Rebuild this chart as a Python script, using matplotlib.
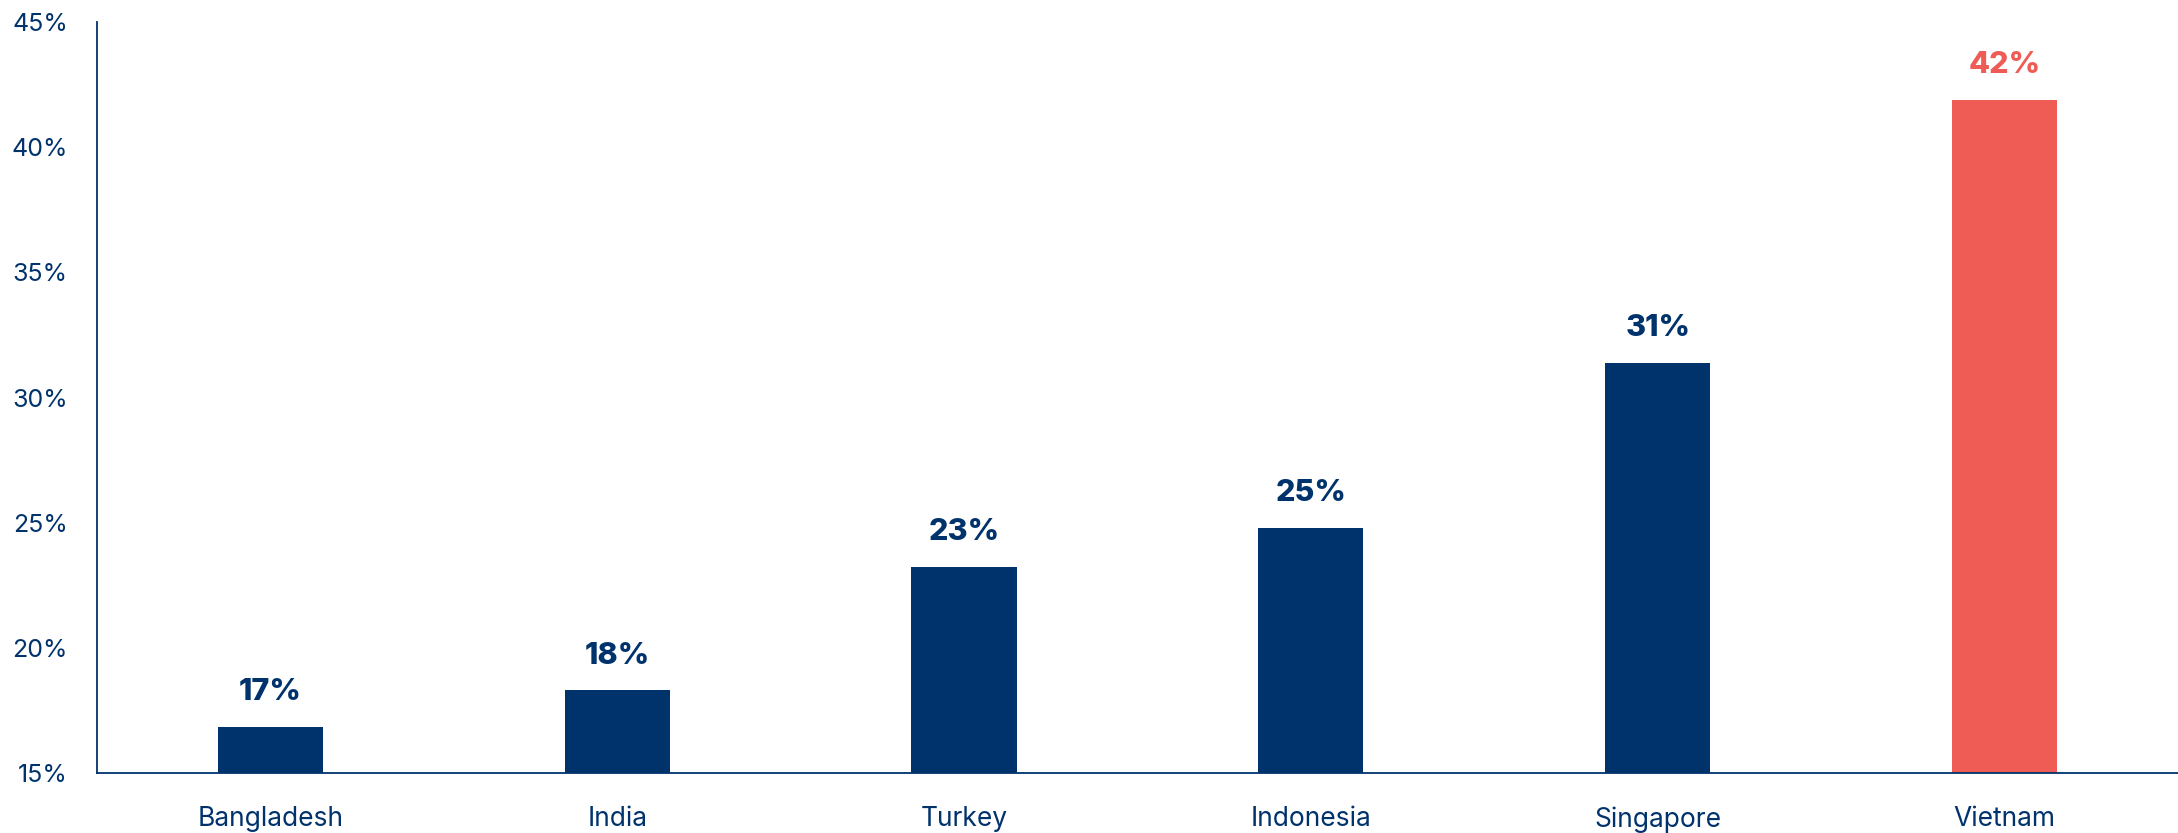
import matplotlib
matplotlib.use("Agg")
import matplotlib.pyplot as plt
import numpy as np

# data
countries = ["Bangladesh", "India", "Turkey", "Indonesia", "Singapore", "Vietnam"]
values = [16.85, 18.3, 23.25, 24.8, 31.4, 41.9]
labels = ["17%", "18%", "23%", "25%", "31%", "42%"]
yticks = [15, 20, 25, 30, 35, 40, 45]

NAVY = "#00326C"
RED = "#EF5B55"
colors = [NAVY] * 5 + [RED]

plt.rcParams["font.family"] = ["Inter", "DejaVu Sans"]

fig = plt.figure(figsize=(21.78, 8.33), dpi=100)
ax = fig.add_axes([0.0445, 0.072, 0.9555, 0.9015])

x = np.arange(len(countries))
ax.bar(x, [v - 15 for v in values], bottom=15, width=0.303, color=colors, zorder=2)

for xi, v, lab, c in zip(x, values, labels, colors):
    ax.annotate(lab, (xi, v), xytext=(0, 15), textcoords="offset points",
                ha="center", va="bottom", fontsize=22, fontweight="heavy", color=c)

ax.set_xlim(-0.5, 5.5)
ax.set_ylim(15, 45)
ax.set_yticks(yticks)
ax.set_yticklabels([f"{t}%" for t in yticks], fontsize=18, color=NAVY)
ax.set_xticks(x)
ax.set_xticklabels(countries, fontsize=19, color=NAVY)
ax.tick_params(axis="y", length=0, pad=21)
ax.tick_params(axis="x", length=0, pad=24)

for s in ["top", "right"]:
    ax.spines[s].set_visible(False)
for s in ["left", "bottom"]:
    ax.spines[s].set_color(NAVY)
    ax.spines[s].set_linewidth(1.3)

fig.savefig("out.png", dpi=100)
